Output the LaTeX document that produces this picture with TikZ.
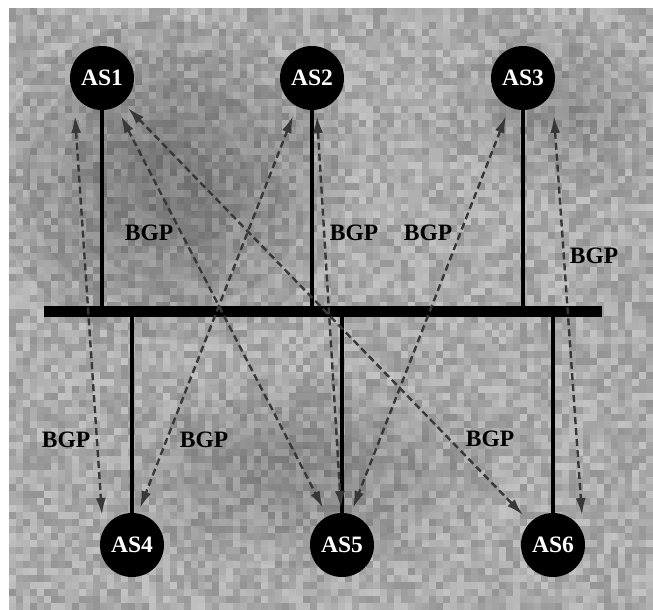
\documentclass[tikz,border=0pt]{standalone}
\usepackage{fontspec}
\setmainfont{Liberation Serif}
\usetikzlibrary{arrows.meta,calc}
\tikzset{>={Latex[length=17pt,width=10pt]}}

\begin{document}
\begin{tikzpicture}[x=1pt,y=-1pt]
      \tikzstyle{asnode}=[circle,fill=black,text=white,minimum size=64pt,inner sep=0pt,font=\bfseries\fontsize{23.5}{26}\selectfont];
      \tikzstyle{stem}=[line width=3.5pt];
      \tikzstyle{bgp}=[black!78,line width=2.4pt,dash pattern=on 7pt off 4pt,<->];
      \tikzstyle{lbl}=[inner sep=0pt,font=\bfseries\fontsize{23.5}{26}\selectfont];
      \useasboundingbox (0,0) rectangle (653,610);

      % stone backdrop
      \begin{scope}
        \clip (9,8) rectangle (653,610);
        \pgfmathsetseed{11}
        \foreach \i in {0,...,92}
          \foreach \j in {0,...,86}{
            \pgfmathrandominteger{\g}{24}{42}
            \fill[black!\g] (9+\i*7,8+\j*7) rectangle ++(7.3,7.3);
          }
        \foreach \r in {40,70,100,130,160}{
          \fill[black,opacity=.055] (170,180) ellipse ({\r*1.1} and \r);
          \fill[black,opacity=.035] (300,470) ellipse ({\r*1.2} and {\r*.6});
          \fill[black,opacity=.03] (560,110) ellipse ({\r*.7} and {\r*.5});
        }
      \end{scope}

      \node[asnode] (as1) at (102,78) {AS1};
      \node[asnode] (as2) at (312,78) {AS2};
      \node[asnode] (as3) at (523,78) {AS3};
      \node[asnode] (as4) at (132,545) {AS4};
      \node[asnode] (as5) at (342,545) {AS5};
      \node[asnode] (as6) at (553,545) {AS6};
      \node[fill=black,minimum width=558pt,minimum height=10.5pt,inner sep=0pt] (bus) at (323,311.5) {};

      \foreach \n/\a in {as1/south,as2/south,as3/south,as4/north,as5/north,as6/north}
        \draw[stem] (\n.\a) -- (\n.\a |- bus.center);

      % BGP sessions
      \draw[bgp] ($(as1)+(-27,38)$) -- ($(as4)+(-30,-30)$);
      \draw[bgp] ($(as1)+(19,38)$) -- ($(as5)+(-19,-37)$);
      \draw[bgp] ($(as1)+(26,30)$) -- ($(as6)+(-30,-30)$);
      \draw[bgp] ($(as2)+(-19,38)$) -- ($(as4)+(8,-37)$);
      \draw[bgp] ($(as2)+(5,38)$) -- ($(as5)+(-1,-37)$);
      \draw[bgp] ($(as3)+(-17,38)$) -- ($(as5)+(11,-37)$);
      \draw[bgp] ($(as3)+(31,38)$) -- ($(as6)+(29,-30)$);

      \node[lbl] (l15) at (149,233) {BGP};
      \node[lbl] (l25) at (354,233) {BGP};
      \node[lbl] (l35) at (428,233) {BGP};
      \node[lbl] (l36) at (594,256) {BGP};
      \node[lbl] (l14) at (66,440) {BGP};
      \node[lbl] (l24) at (204,440) {BGP};
      \node[lbl] (l16) at (490,439) {BGP};
    \end{tikzpicture}
\end{document}
